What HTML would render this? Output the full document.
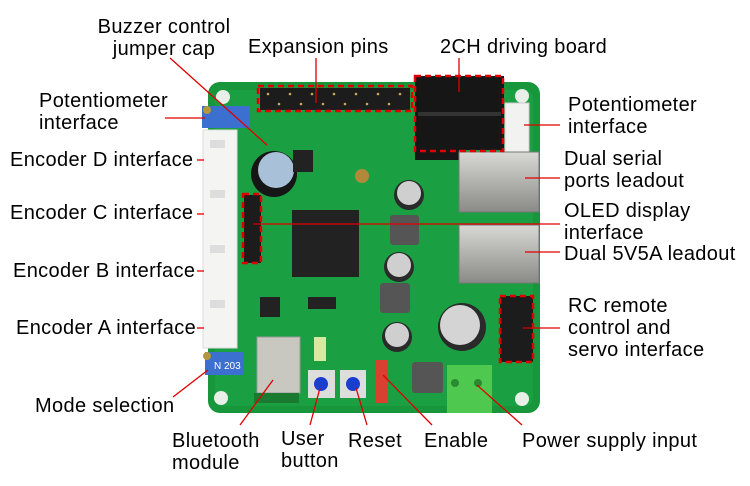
<!DOCTYPE html>
<html><head><meta charset="utf-8"><style>
html,body{margin:0;padding:0;background:#fff;width:750px;height:486px;overflow:hidden;position:relative;font-family:"Liberation Sans",Arial,sans-serif}
.t{position:absolute;font-size:20px;letter-spacing:0.35px;line-height:22px;color:#000;white-space:nowrap}
svg{position:absolute;left:0;top:0}
</style></head><body>
<svg width="750" height="486" viewBox="0 0 750 486">
<defs>
<linearGradient id="rj" x1="0" y1="0" x2="0" y2="1"><stop offset="0" stop-color="#d8d8d4"/><stop offset="1" stop-color="#8a8a86"/></linearGradient>
</defs>
<rect x="208" y="82" width="332" height="331" rx="12" fill="#17963c"/>
<rect x="215" y="90" width="318" height="316" rx="8" fill="#1aa042"/>
<circle cx="223" cy="97" r="7" fill="#e8efe8"/>
<circle cx="522" cy="96" r="7" fill="#e8efe8"/>
<circle cx="522" cy="399" r="7" fill="#e8efe8"/>
<circle cx="221" cy="398" r="7" fill="#e8efe8"/>
<rect x="260" y="88" width="150" height="22" fill="#1c1c1c"/>
<g fill="#caa85a"><circle cx="268" cy="94" r="1.3"/><circle cx="290" cy="94" r="1.3"/><circle cx="312" cy="94" r="1.3"/><circle cx="334" cy="94" r="1.3"/><circle cx="356" cy="94" r="1.3"/><circle cx="378" cy="94" r="1.3"/><circle cx="400" cy="94" r="1.3"/><circle cx="279" cy="104" r="1.3"/><circle cx="301" cy="104" r="1.3"/><circle cx="323" cy="104" r="1.3"/><circle cx="345" cy="104" r="1.3"/><circle cx="367" cy="104" r="1.3"/><circle cx="389" cy="104" r="1.3"/></g>
<rect x="415" y="76" width="89" height="74" fill="#161616"/>
<rect x="418" y="112" width="83" height="4" fill="#333"/>
<rect x="415" y="150" width="44" height="10" fill="#161616"/>
<rect x="505" y="103" width="24" height="50" fill="#f2f2f0" stroke="#ccc"/>
<rect x="459" y="152" width="80" height="60" fill="url(#rj)" stroke="#777"/>
<rect x="459" y="225" width="80" height="58" fill="url(#rj)" stroke="#777"/>
<rect x="500" y="296" width="33" height="66" fill="#1c1c1c"/>
<rect x="203" y="130" width="34" height="218" fill="#f4f4f2" stroke="#ddd"/>
<g fill="#ddd"><rect x="210" y="140" width="15" height="8"/><rect x="210" y="190" width="15" height="8"/><rect x="210" y="245" width="15" height="8"/><rect x="210" y="300" width="15" height="8"/></g>
<rect x="202" y="106" width="48" height="22" fill="#3b6fd0"/>
<circle cx="207" cy="110" r="4" fill="#b8963a"/>
<rect x="205" y="352" width="39" height="23" fill="#3b6fd0"/>
<circle cx="207" cy="356" r="4" fill="#b8963a"/>
<text x="214" y="369" font-size="10" fill="#fff" font-family="Liberation Sans">N 203</text>
<circle cx="274" cy="174" r="23" fill="#161616"/>
<circle cx="276" cy="170" r="18" fill="#a8c0d8"/>
<rect x="244" y="195" width="17" height="68" fill="#1c1c1c"/>
<rect x="292" y="210" width="67" height="67" fill="#222"/>
<rect x="293" y="150" width="20" height="22" fill="#222"/>
<rect x="260" y="297" width="20" height="20" fill="#222"/>
<rect x="308" y="297" width="28" height="12" fill="#222"/>
<rect x="390" y="215" width="29" height="30" fill="#555" rx="3"/>
<rect x="380" y="283" width="30" height="30" fill="#555" rx="3"/>
<rect x="412" y="362" width="31" height="31" fill="#555" rx="3"/>
<circle cx="409" cy="195" r="15" fill="#2a2a2a"/><circle cx="409" cy="193" r="12" fill="#cfcfcf"/>
<circle cx="399" cy="267" r="15" fill="#2a2a2a"/><circle cx="399" cy="265" r="12" fill="#cfcfcf"/>
<circle cx="397" cy="337" r="15" fill="#2a2a2a"/><circle cx="397" cy="335" r="12" fill="#cfcfcf"/>
<circle cx="462" cy="327" r="24" fill="#2a2a2a"/><circle cx="460" cy="325" r="20" fill="#d4d4d4"/>
<circle cx="362" cy="176" r="7" fill="#b08a3a"/>
<rect x="257" y="337" width="43" height="56" fill="#c8c8c0" stroke="#999"/>
<rect x="254" y="393" width="45" height="10" fill="#1a7a30"/>
<rect x="308" y="370" width="27" height="28" fill="#ddd"/><circle cx="321" cy="384" r="7" fill="#1a3fd0"/>
<rect x="340" y="370" width="26" height="28" fill="#ddd"/><circle cx="353" cy="384" r="7" fill="#1a3fd0"/>
<rect x="375" y="360" width="13" height="43" fill="#d84030"/>
<rect x="314" y="337" width="12" height="24" fill="#d8e8a0"/>
<rect x="447" y="365" width="45" height="48" fill="#4fc850"/>
<circle cx="455" cy="383" r="4" fill="#2a8a30"/><circle cx="478" cy="383" r="4" fill="#2a8a30"/>
<g fill="none" stroke="#e00000" stroke-width="2.5" stroke-dasharray="6,4">
<rect x="258" y="86" width="154" height="25"/>
<rect x="415" y="76" width="88" height="75"/>
<rect x="243" y="194" width="18" height="69"/>
<rect x="500" y="296" width="33" height="66"/>
</g>
<g stroke="#e00000" stroke-width="1.3" fill="none">
<line x1="170" y1="58" x2="267" y2="145"/>
<line x1="316" y1="58" x2="316" y2="103"/>
<line x1="459" y1="58" x2="459" y2="92"/>
<line x1="165" y1="118" x2="205" y2="118"/>
<line x1="197" y1="160" x2="204" y2="160"/>
<line x1="197" y1="214" x2="204" y2="214"/>
<line x1="197" y1="271" x2="204" y2="271"/>
<line x1="197" y1="328" x2="204" y2="328"/>
<line x1="173" y1="397" x2="208" y2="370"/>
<line x1="240" y1="425" x2="273" y2="380"/>
<line x1="310" y1="425" x2="320" y2="388"/>
<line x1="367" y1="425" x2="356" y2="388"/>
<line x1="432" y1="425" x2="383" y2="375"/>
<line x1="522" y1="425" x2="477" y2="385"/>
<line x1="524" y1="125" x2="560" y2="125"/>
<line x1="525" y1="178" x2="560" y2="178"/>
<line x1="253" y1="224" x2="560" y2="224"/>
<line x1="525" y1="252" x2="560" y2="252"/>
<line x1="523" y1="328" x2="560" y2="328"/>
</g>
</svg>
<div class="t" style="left:92px;top:16px;text-align:center;width:144px">Buzzer control<br>jumper cap</div>
<div class="t" style="left:248px;top:36px">Expansion pins</div>
<div class="t" style="left:440px;top:36px">2CH driving board</div>
<div class="t" style="left:39px;top:90px">Potentiometer<br>interface</div>
<div class="t" style="left:10px;top:149px">Encoder D interface</div>
<div class="t" style="left:10px;top:202px">Encoder C interface</div>
<div class="t" style="left:13px;top:260px">Encoder B interface</div>
<div class="t" style="left:16px;top:317px">Encoder A interface</div>
<div class="t" style="left:35px;top:395px">Mode selection</div>
<div class="t" style="left:172px;top:430px">Bluetooth<br>module</div>
<div class="t" style="left:281px;top:428px">User<br>button</div>
<div class="t" style="left:348px;top:430px">Reset</div>
<div class="t" style="left:424px;top:430px">Enable</div>
<div class="t" style="left:522px;top:430px">Power supply input</div>
<div class="t" style="left:568px;top:94px">Potentiometer<br>interface</div>
<div class="t" style="left:564px;top:148px">Dual serial<br>ports leadout</div>
<div class="t" style="left:564px;top:200px">OLED display<br>interface</div>
<div class="t" style="left:564px;top:243px">Dual 5V5A leadout</div>
<div class="t" style="left:568px;top:295px">RC remote<br>control and<br>servo interface</div>
</body></html>
